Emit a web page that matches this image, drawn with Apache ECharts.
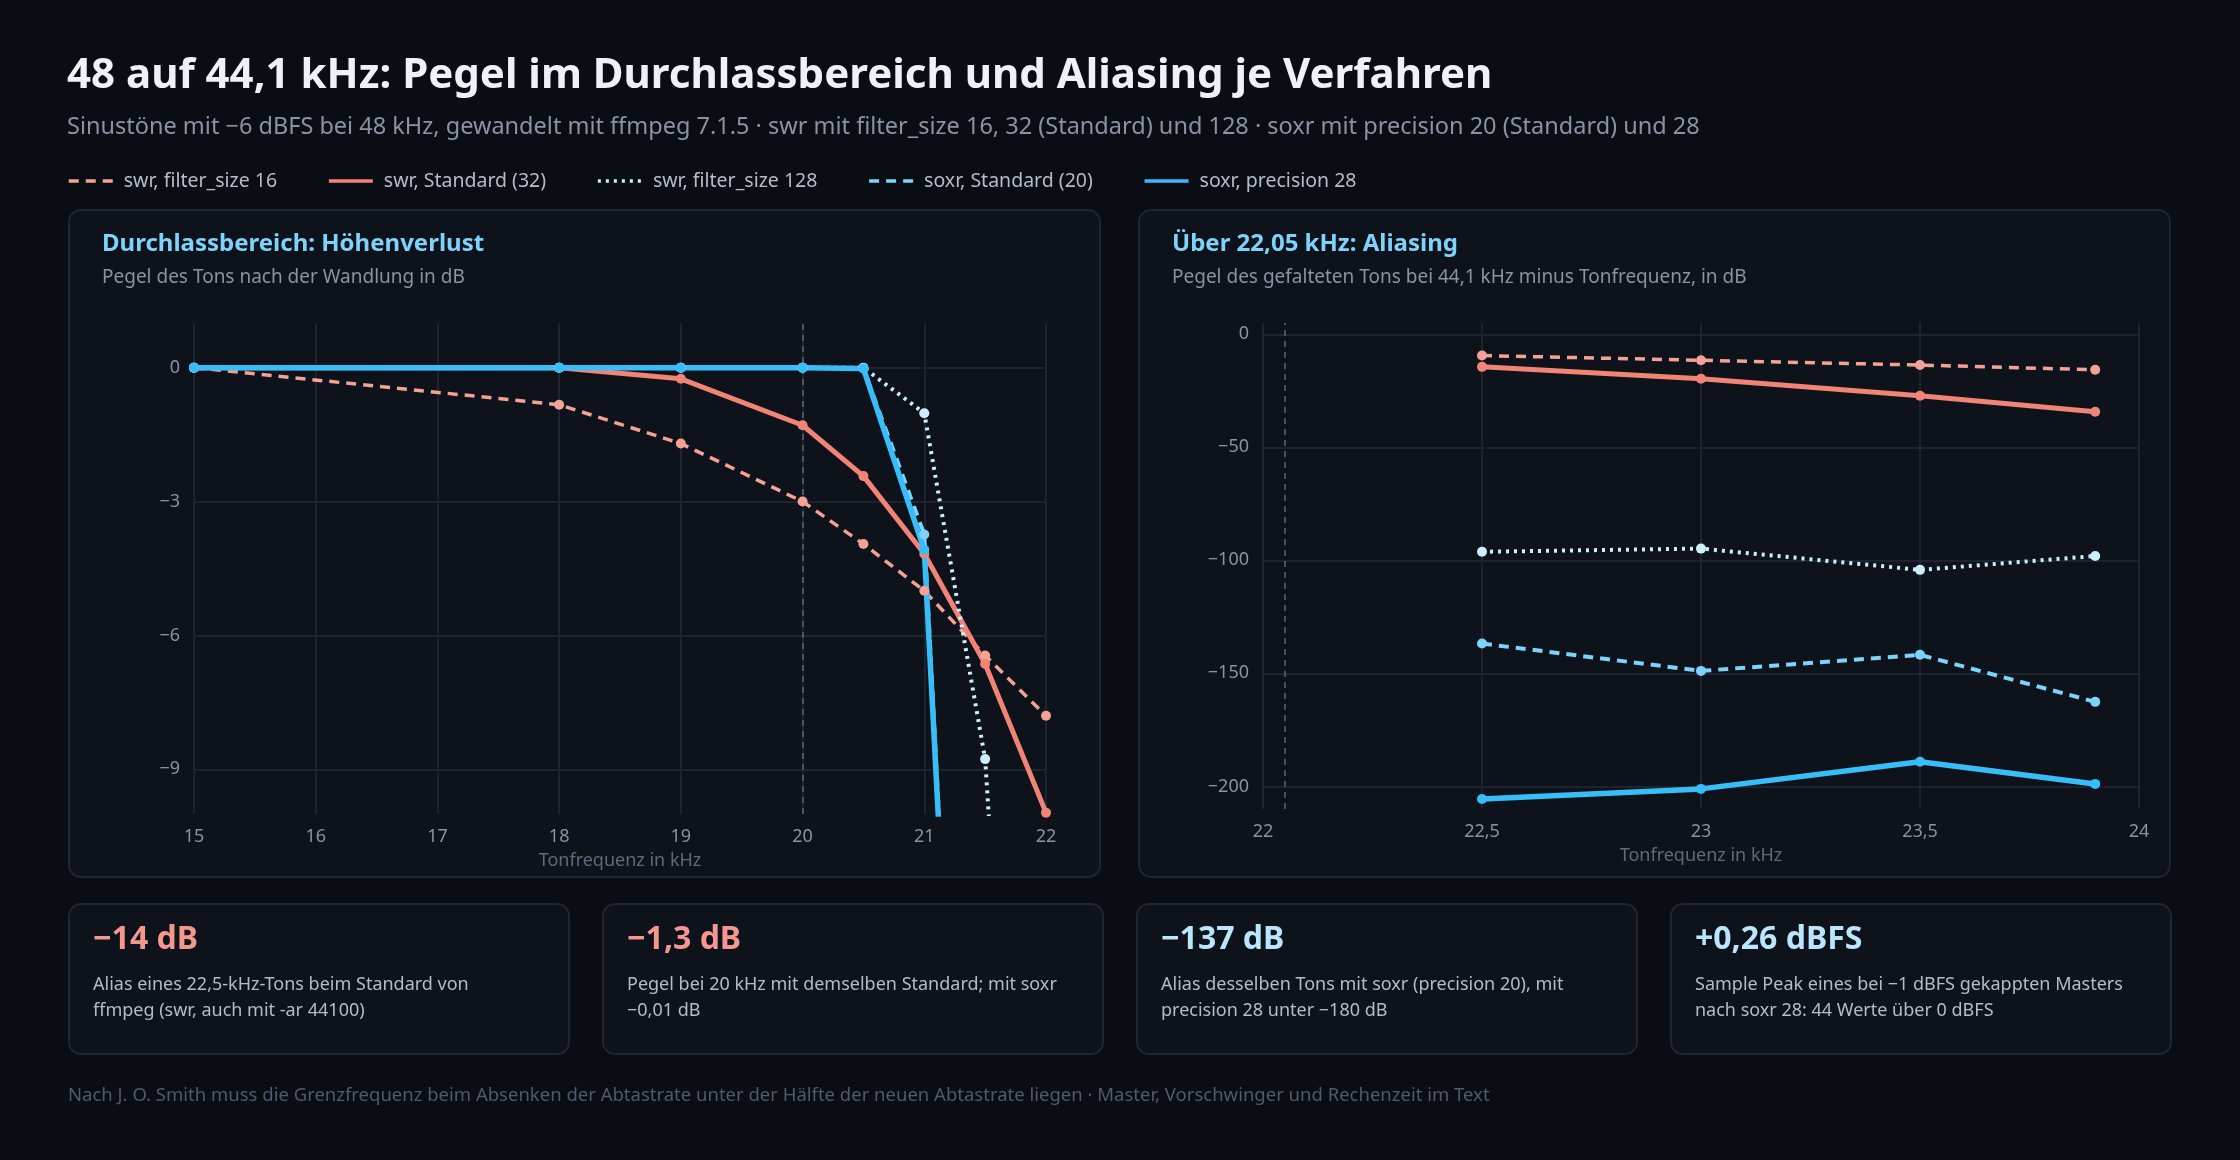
<!DOCTYPE html>
<html><head><meta charset="utf-8">
<script src="https://cdn.jsdelivr.net/npm/echarts@6/dist/echarts.min.js"></script>
<style>html,body{margin:0;background:#0a0d13;}#c{width:2240px;height:1160px;}</style>
</head><body><div id="c"></div>
<script>
// Durchlassbereich
const passFreq = [15, 18, 19, 20, 20.5, 21, 21.5, 22];
const passSwr16 = [0, -0.83, -1.7, -3.0, -3.95, -5.0, -6.45, -7.8];
const passSwr32 = [0, 0, -0.25, -1.29, -2.43, -4.17, -6.64, -9.97];
const passSwr128 = [0, 0, 0, 0, 0, -1.02, -8.77, -30];
const passSoxr20 = [0, 0, 0, 0, -0.02, -3.74, -30, -60];
const passSoxr28 = [0, 0, 0, 0, -0.02, -4.08, -30, -60];
// Aliasing
const aliasFreq = [22.5, 23, 23.5, 23.9];
const aliasSwr16 = [-9.4, -11.5, -13.6, -15.7];
const aliasSwr32 = [-14.4, -19.7, -27.2, -34.3];
const aliasSwr128 = [-96.2, -94.8, -104.2, -98.1];
const aliasSoxr20 = [-136.8, -148.9, -141.8, -162.6];
const aliasSoxr28 = [-205.6, -201.1, -189.1, -198.9];

const font = 'Noto Sans';
const grid = '#1d2430';
const muted = '#8a93a3';
const styles = [
  { name: 'swr, filter_size 16', color: '#f4a196', type: [10, 7], width: 3.5 },
  { name: 'swr, Standard (32)', color: '#f28476', type: 'solid', width: 5 },
  { name: 'swr, filter_size 128', color: '#cdeefd', type: [3, 5], width: 4 },
  { name: 'soxr, Standard (20)', color: '#7dd3fc', type: [10, 7], width: 4 },
  { name: 'soxr, precision 28', color: '#38bdf8', type: 'solid', width: 5.5 },
];
const passData = [passSwr16, passSwr32, passSwr128, passSoxr20, passSoxr28];
const aliasData = [aliasSwr16, aliasSwr32, aliasSwr128, aliasSoxr20, aliasSoxr28];

const num = (v) => (v < 0 ? '\u2212' : '') + String(Math.abs(v)).replace('.', ',');

function mkSeries(s, freq, vals, idx) {
  return {
    name: s.name, type: 'line', xAxisIndex: idx, yAxisIndex: idx,
    data: freq.map((f, i) => [f, vals[i]]),
    symbol: 'circle', symbolSize: 10, clip: true,
    lineStyle: { color: s.color, type: s.type, width: s.width },
    itemStyle: { color: s.color },
    z: 5,
  };
}
function hLines(idx, values) {
  return {
    type: 'line', xAxisIndex: idx, yAxisIndex: idx, data: [], silent: true,
    markLine: { symbol: 'none', silent: true, label: { show: false },
      lineStyle: { color: grid, type: 'solid', width: 2 },
      data: values.map((v) => ({ yAxis: v })) },
  };
}

const series = [];
styles.forEach((s, i) => series.push(mkSeries(s, passFreq, passData[i], 0)));
styles.forEach((s, i) => series.push(mkSeries(s, aliasFreq, aliasData[i], 1)));
series.push(hLines(0, [0, -3, -6, -9]));
series.push(hLines(1, [0, -50, -100, -150, -200]));
series.push({
  type: 'line', xAxisIndex: 0, yAxisIndex: 0, data: [],
  markLine: { symbol: 'none', silent: true, label: { show: false },
    lineStyle: { color: '#5b6678', type: [6, 5], width: 1.5 },
    data: [{ xAxis: 20 }] },
  markPoint: { symbol: 'none',
    label: { show: true, position: 'left', formatter: '20 kHz', color: muted, fontFamily: font, fontSize: 17, distance: 14 },
    data: [{ coord: [20, 0.75] }] },
});
series.push({
  type: 'line', xAxisIndex: 1, yAxisIndex: 1, data: [],
  markLine: { symbol: 'none', silent: true, label: { show: false },
    lineStyle: { color: '#5b6678', type: [6, 5], width: 1.5 },
    data: [{ xAxis: 22.05 }] },
  markPoint: { symbol: 'none',
    label: { show: true, position: 'right', formatter: '22,05 kHz: neue Nyquist-Frequenz', color: muted, fontFamily: font, fontSize: 17 },
    data: [{ coord: [22.05, -121] }] },
});

function xAxis(idx, min, max, interval) {
  return {
    type: 'value', gridIndex: idx, min, max, interval,
    name: 'Tonfrequenz in kHz', nameLocation: 'middle', nameGap: 38,
    nameTextStyle: { color: '#5f6a7c', fontFamily: font, fontSize: 18 },
    axisLine: { show: false }, axisTick: { show: false },
    axisLabel: { color: muted, fontFamily: font, fontSize: 18, margin: 14, formatter: num },
    splitLine: { show: true, lineStyle: { color: grid, width: 2 } },
  };
}
function yAxis(idx, min, max, interval, step) {
  return {
    type: 'value', gridIndex: idx, min, max, interval,
    axisLine: { show: false }, axisTick: { show: false }, splitLine: { show: false },
    axisLabel: { color: muted, fontFamily: font, fontSize: 18, margin: 14,
      formatter: (v) => (v % step === 0 && v <= 0 ? num(v) : '') },
  };
}

function card(x, y, w, h) {
  return { type: 'rect', shape: { x, y, width: w, height: h, r: 12 }, z: -10,
    style: { fill: '#0e131b', stroke: '#1e2631', lineWidth: 2 } };
}
function txt(x, y, text, size, color, weight) {
  return { type: 'text', x, y, z: 10,
    style: { text, fill: color, fontFamily: font, fontSize: size, fontWeight: weight || 'normal' } };
}
const kpis = [
  ['\u221214 dB', '#f4978e', 'Alias eines 22,5-kHz-Tons beim Standard von\nffmpeg (swr, auch mit -ar 44100)'],
  ['\u22121,3 dB', '#f4978e', 'Pegel bei 20 kHz mit demselben Standard; mit soxr\n\u22120,01 dB'],
  ['\u2212137 dB', '#bae6fd', 'Alias desselben Tons mit soxr (precision 20), mit\nprecision 28 unter \u2212180 dB'],
  ['+0,26 dBFS', '#bae6fd', 'Sample Peak eines bei \u22121 dBFS gekappten Masters\nnach soxr 28: 44 Werte \u00fcber 0 dBFS'],
];
const graphic = [card(69, 210, 1031, 667), card(1139, 210, 1031, 667),
  txt(102, 232, 'Durchlassbereich: Höhenverlust', 24, '#7dd3fc', 'bold'),
  txt(102, 268, 'Pegel des Tons nach der Wandlung in dB', 19, muted),
  txt(1172, 232, 'Über 22,05 kHz: Aliasing', 24, '#7dd3fc', 'bold'),
  txt(1172, 268, 'Pegel des gefalteten Tons bei 44,1 kHz minus Tonfrequenz, in dB', 19, muted),
  txt(68, 1086, 'Nach J. O. Smith muss die Grenzfrequenz beim Absenken der Abtastrate unter der Hälfte der neuen Abtastrate liegen · Master, Vorschwinger und Rechenzeit im Text', 18.5, '#4f5a6b'),
];
kpis.forEach((k, i) => {
  const x = 69 + i * 534;
  graphic.push(card(x, 904, 500, 150));
  graphic.push(txt(x + 24, 924, k[0], 32, k[1], 'bold'));
  graphic.push({ type: 'text', x: x + 24, y: 972, z: 10,
    style: { text: k[2], fill: '#b4bcc8', fontFamily: font, fontSize: 18, lineHeight: 26 } });
});

const chart = echarts.init(document.getElementById('c'));
chart.setOption({
  backgroundColor: '#0a0d13',
  animation: false,
  title: {
    text: '48 auf 44,1 kHz: Pegel im Durchlassbereich und Aliasing je Verfahren',
    subtext: 'Sinustöne mit \u22126 dBFS bei 48 kHz, gewandelt mit ffmpeg 7.1.5 · swr mit filter_size 16, 32 (Standard) und 128 · soxr mit precision 20 (Standard) und 28',
    left: 62, top: 50, itemGap: 18,
    textStyle: { color: '#eef2f7', fontFamily: font, fontSize: 42, fontWeight: 'bold' },
    subtextStyle: { color: '#8a93a3', fontFamily: font, fontSize: 23.5 },
  },
  legend: {
    left: 62, top: 166, itemWidth: 44, itemHeight: 14, itemGap: 50,
    data: styles.map((s) => s.name),
    itemStyle: { opacity: 0 },
    lineStyle: { width: 3.5 },
    textStyle: { color: '#b4bcc8', fontFamily: font, fontSize: 19.5, padding: [0, 0, 0, 6] },
  },
  grid: [
    { left: 194, right: 2240 - 1046, top: 323, bottom: 1160 - 814 },
    { left: 1263, right: 2240 - 2139, top: 323, bottom: 1160 - 809 },
  ],
  xAxis: [xAxis(0, 15, 22, 1), xAxis(1, 22, 24, 0.5)],
  yAxis: [yAxis(0, -10, 1, 1, 3), yAxis(1, -210, 5, 5, 50)],
  graphic,
  series,
});
</script></body></html>
